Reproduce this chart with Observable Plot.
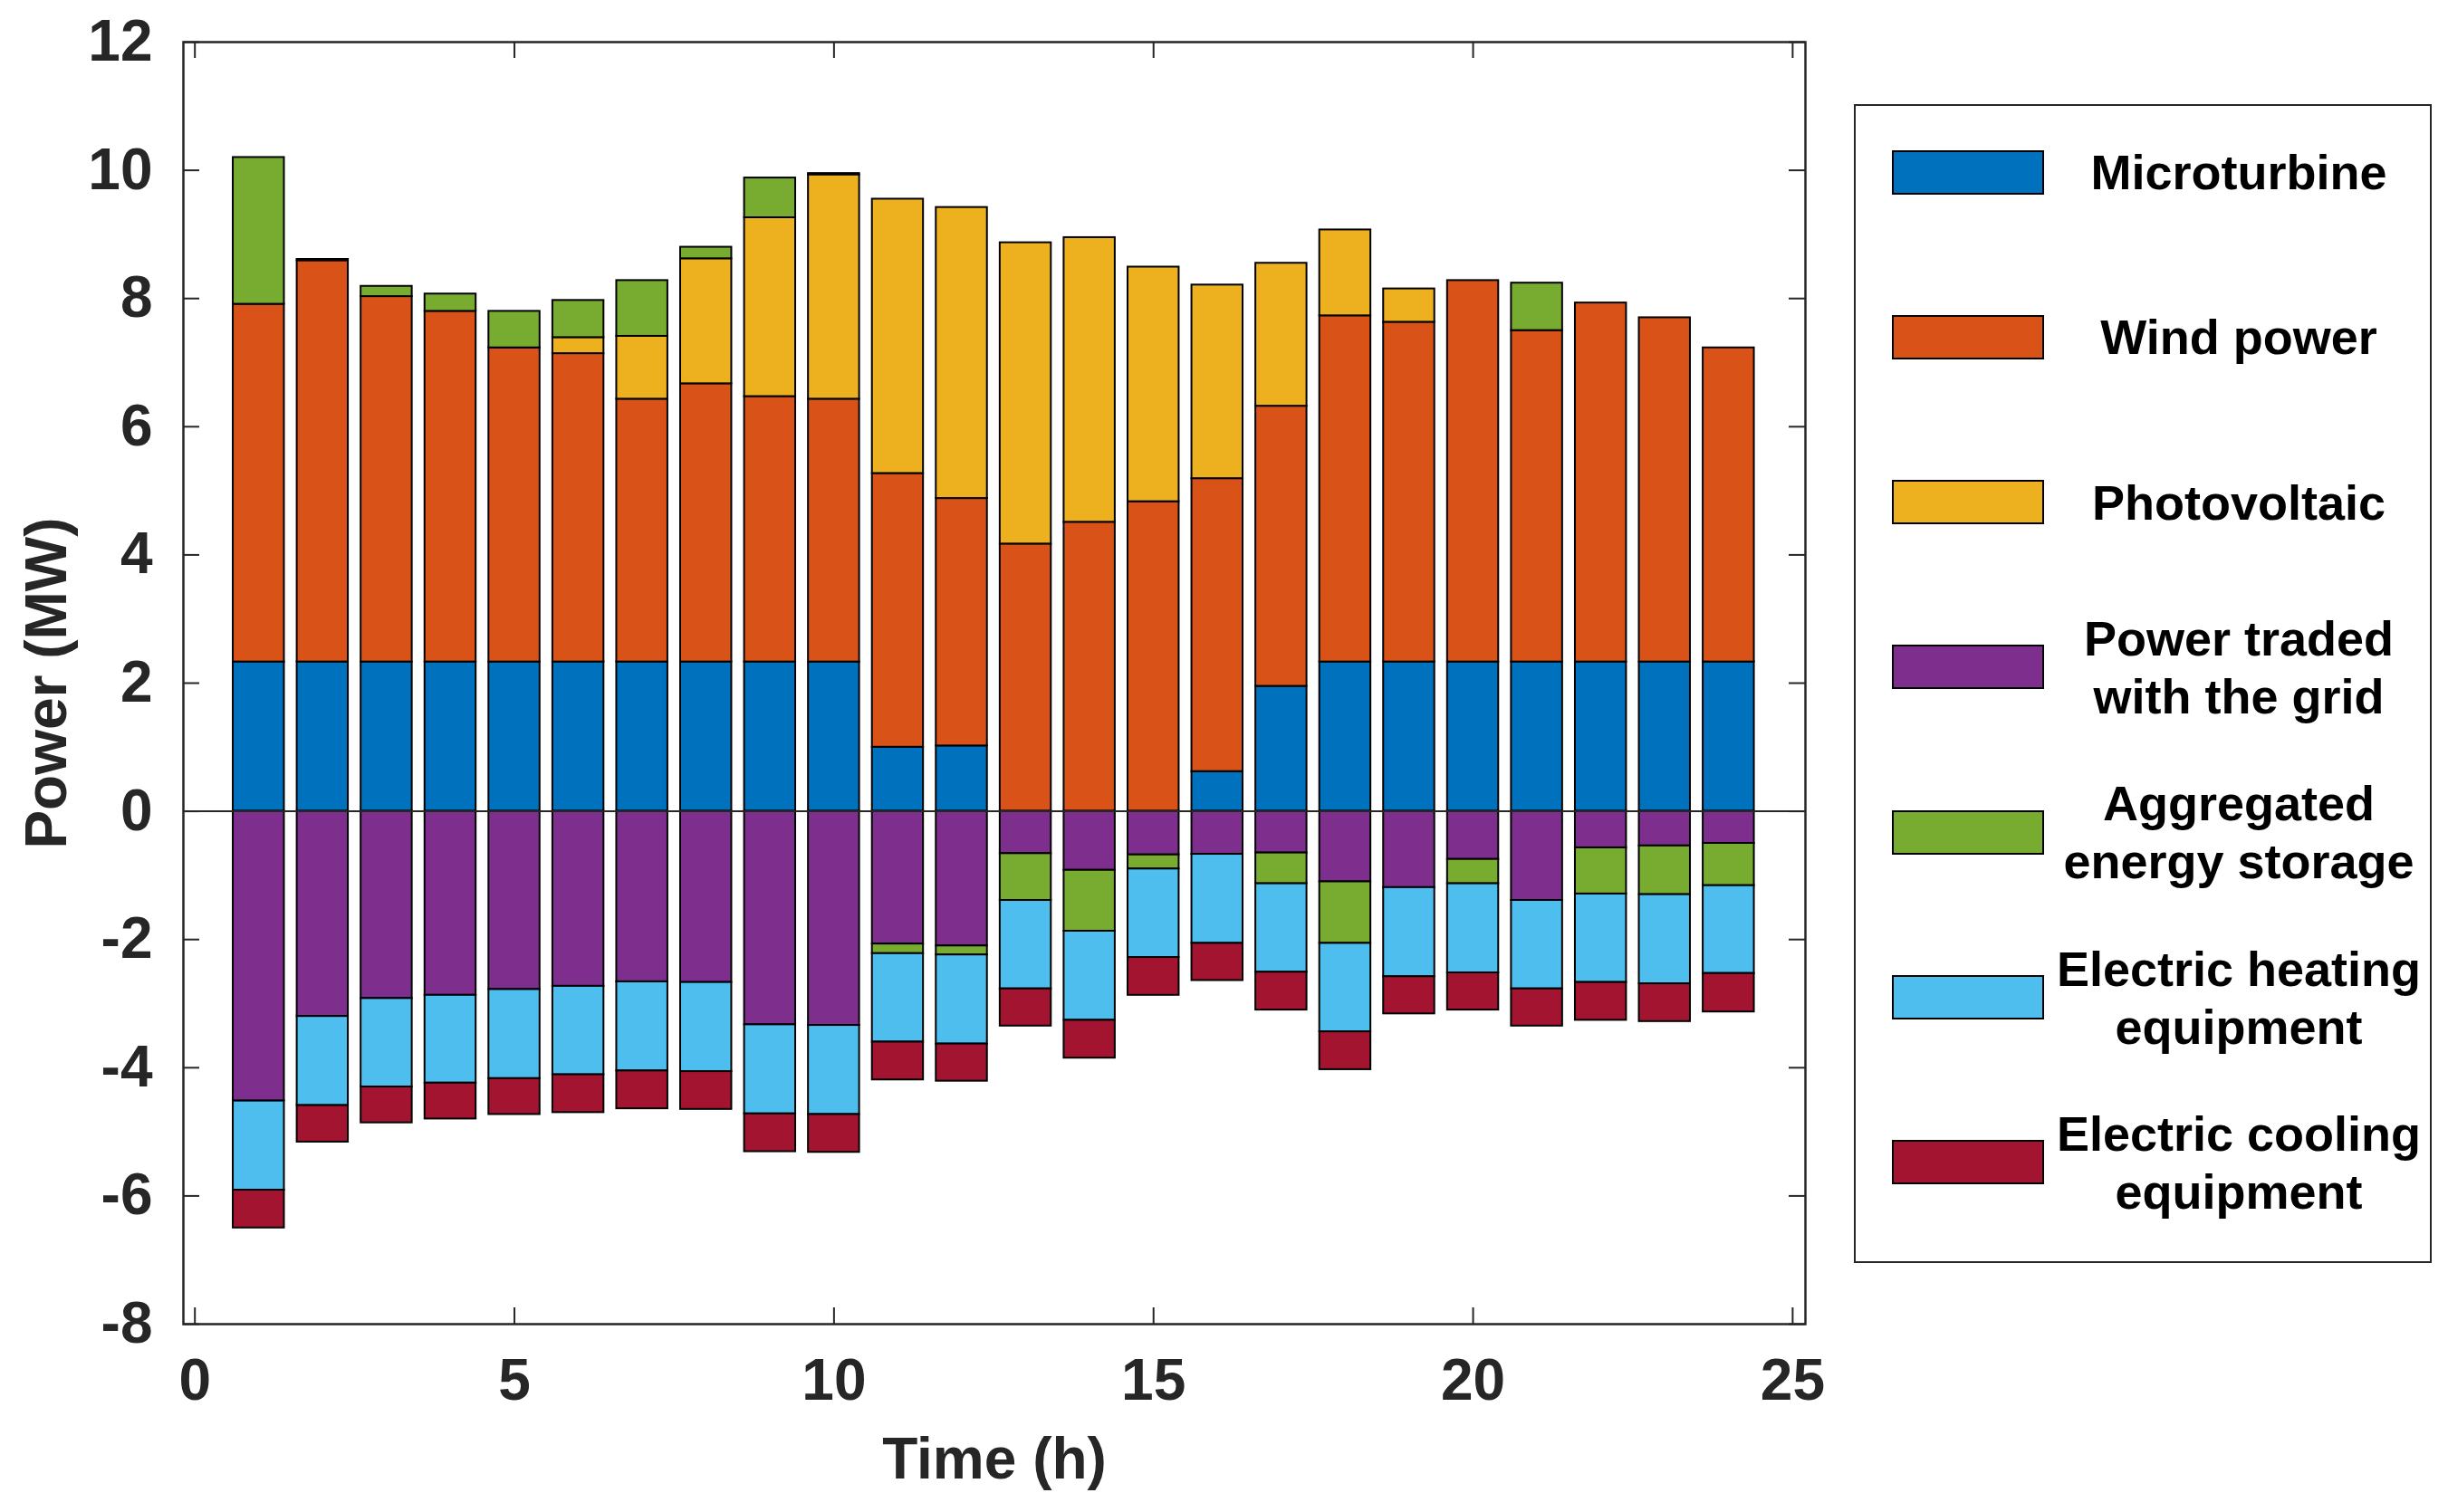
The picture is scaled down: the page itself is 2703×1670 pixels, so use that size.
<!DOCTYPE html>
<html>
<head>
<meta charset="utf-8">
<script src="https://cdn.jsdelivr.net/npm/d3@7"></script>
<script src="https://cdn.jsdelivr.net/npm/@observablehq/plot@0.6"></script>
<style>
  html, body { margin: 0; padding: 0; background: #fff; }
  #wrap { position: relative; width: 2703px; height: 1670px; font-family: "Liberation Sans", Arial, sans-serif; }
  #legend { position: absolute; left: 2047px; top: 115px; width: 638px; height: 1280px; border: 2.5px solid #262626; box-sizing: border-box; background: #fff; }
  .row { position: absolute; left: 0; width: 100%; height: 140px; display: flex; align-items: center; }
  .sw { position: absolute; left: 40px; width: 168px; height: 49px; box-sizing: border-box; border: 2.5px solid #000; }
  .lab { position: absolute; left: 212px; right: 0; text-align: center; font-weight: bold; font-size: 54px; line-height: 64px; color: #000; }
</style>
</head>
<body>
<div id="wrap"><div id="legend"></div></div>
<script>
const hours = [1,2,3,4,5,6,7,8,9,10,11,12,13,14,15,16,17,18,19,20,21,22,23,24];
const seriesNames = ["Microturbine","Wind power","Photovoltaic","Power traded with the grid","Aggregated energy storage","Electric heating equipment","Electric cooling equipment"];
const seriesColors = ["#0072BD","#D95319","#EDB120","#7E2F8E","#77AC30","#4DBEEE","#A2142F"];
const legendLines = [["Microturbine"],["Wind power"],["Photovoltaic"],["Power traded","with the grid"],["Aggregated","energy storage"],["Electric heating","equipment"],["Electric cooling","equipment"]];

const microturbine = [2.33,2.33,2.33,2.33,2.33,2.33,2.33,2.33,2.33,2.33,1.00,1.02,0,0,0,0.62,1.95,2.33,2.33,2.33,2.33,2.33,2.33,2.33];
const wind = [5.58,6.26,5.70,5.47,4.90,4.81,4.10,4.34,4.14,4.10,4.27,3.86,4.17,4.51,4.83,4.57,4.37,5.40,5.30,5.95,5.17,5.60,5.37,4.90];
const photovoltaic = [0,0,0,0,0,0.25,0.98,1.95,2.79,3.50,4.28,4.54,4.70,4.44,3.66,3.02,2.23,1.34,0.52,0,0,0,0,0];
const grid = [-4.52,-3.20,-2.92,-2.87,-2.78,-2.73,-2.66,-2.67,-3.33,-3.34,-2.07,-2.10,-0.66,-0.92,-0.68,-0.67,-0.65,-1.10,-1.19,-0.75,-1.39,-0.57,-0.54,-0.50];
const storage = [2.29,0.02,0.16,0.27,0.57,0.58,0.87,0.18,0.62,0.02,-0.15,-0.14,-0.73,-0.95,-0.22,0,-0.48,-0.96,0,-0.38,0.74,-0.72,-0.76,-0.66];
const heating = [-1.39,-1.39,-1.38,-1.37,-1.39,-1.38,-1.39,-1.39,-1.39,-1.39,-1.38,-1.39,-1.38,-1.39,-1.38,-1.39,-1.38,-1.38,-1.39,-1.39,-1.38,-1.38,-1.39,-1.37];
const cooling = [-0.59,-0.57,-0.56,-0.56,-0.56,-0.59,-0.59,-0.59,-0.59,-0.59,-0.59,-0.58,-0.58,-0.59,-0.59,-0.58,-0.59,-0.59,-0.58,-0.58,-0.58,-0.59,-0.59,-0.60];

const xTicks = [0,5,10,15,20,25];
const yTicks = [-8,-6,-4,-2,0,2,4,6,8,10,12];

const allSeries = [microturbine, wind, photovoltaic, grid, storage, heating, cooling];
const data = [];
allSeries.forEach((vals, s) => {
  hours.forEach((h, i) => data.push({hour: h, series: seriesNames[s], value: vals[i]}));
});

const W = 2703, H = 1670;
const mL = 202, mR = 710, mT = 46, mB = 208;
const fw = W - mL - mR, fh = H - mT - mB;
const tick = 18;
const ink = "#262626";

const chart = Plot.plot({
  width: W, height: H,
  marginLeft: mL, marginRight: mR, marginTop: mT, marginBottom: mB,
  style: {fontFamily: "'Liberation Sans', Arial, sans-serif", fontWeight: "bold", fontSize: "64px", color: ink, background: "#fff"},
  x: {domain: [-0.18, 25.2], axis: null},
  y: {domain: [-8, 12], axis: null},
  color: {domain: seriesNames, range: seriesColors},
  marks: [
    Plot.rectY(data, {x1: d => d.hour - 0.4, x2: d => d.hour + 0.4, y: "value", fill: "series", stroke: "#000", strokeWidth: 2}),
    Plot.ruleY([0], {stroke: ink, strokeWidth: 2}),
    Plot.frame({stroke: ink, strokeWidth: 2.5}),
    Plot.tickX(xTicks, {x: d => d, insetTop: fh - tick, stroke: ink, strokeWidth: 2}),
    Plot.tickX(xTicks, {x: d => d, insetBottom: fh - tick, stroke: ink, strokeWidth: 2}),
    Plot.tickY(yTicks, {y: d => d, insetRight: fw - tick, stroke: ink, strokeWidth: 2}),
    Plot.tickY(yTicks, {y: d => d, insetLeft: fw - tick, stroke: ink, strokeWidth: 2}),
    Plot.axisX(xTicks, {tickSize: 0, tickPadding: 38, fontSize: 64, fontWeight: "bold", fill: ink, tickFormat: d => `${d}`, label: null}),
    Plot.axisY(yTicks, {tickSize: 0, tickPadding: 34, fontSize: 64, fontWeight: "bold", fill: ink, tickFormat: d => `${d}`, label: null}),
    Plot.text(["Time (h)"], {frameAnchor: "bottom", dy: 150, textAnchor: "middle", lineAnchor: "middle", fontSize: 64, fontWeight: "bold", fill: ink}),
    Plot.text(["Power (MW)"], {frameAnchor: "left", dx: -150, rotate: -90, textAnchor: "middle", lineAnchor: "middle", fontSize: 64, fontWeight: "bold", fill: ink})
  ]
});
document.getElementById("wrap").prepend(chart);

const legend = document.getElementById("legend");
const rowCenters0 = 188 - 115;
legendLines.forEach((lines, i) => {
  const row = document.createElement("div");
  row.className = "row";
  const c = rowCenters0 + i * 182.3;
  row.style.top = (c - 70) + "px";
  const sw = document.createElement("div");
  sw.className = "sw";
  sw.style.background = seriesColors[i];
  sw.style.top = (70 - 24.5) + "px";
  const lab = document.createElement("div");
  lab.className = "lab";
  lab.innerHTML = lines.join("<br>");
  row.appendChild(sw);
  row.appendChild(lab);
  legend.appendChild(row);
});
</script>
</body>
</html>
